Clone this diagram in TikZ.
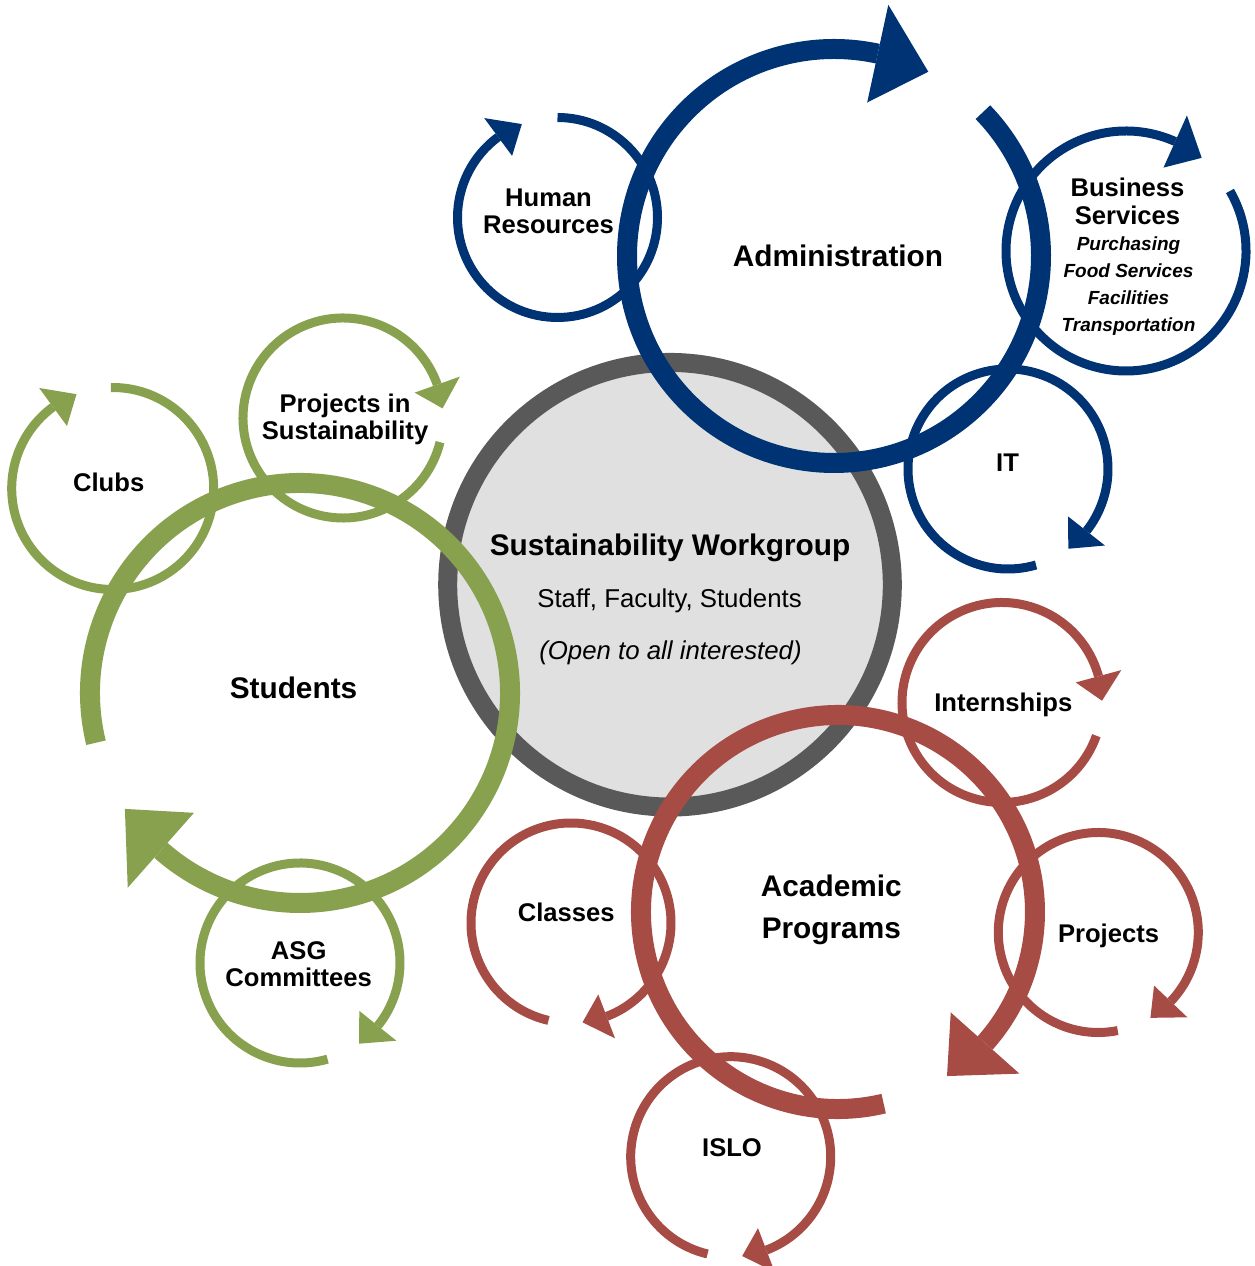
\documentclass[tikz,border=0pt]{standalone}
\usepackage{fontspec}
\setmainfont{Liberation Sans}
\definecolor{navy}{RGB}{0,51,115}
\definecolor{leaf}{RGB}{136,161,78}
\definecolor{brick}{RGB}{167,76,69}
\definecolor{ringgray}{RGB}{89,89,89}
\definecolor{discgray}{RGB}{224,224,224}
% #1 colour, #2 centre, #3 radius, #4 line width, #5 start angle, #6 end (arrow base) angle, #7 half width of head, #8 head angle
\newcommand{\cycarrow}[8]{%
  \draw[#1, line width=#4pt] (#2) ++(#5:#3) arc[start angle=#5, end angle=#6, radius=#3];
  \fill[#1] ([shift={(#6:{#3-#7})}]#2) -- ([shift={({#6-#8}:#3)}]#2) -- ([shift={(#6:{#3+#7})}]#2) -- cycle;
}
\begin{document}
\begin{tikzpicture}[x=1pt,y=1pt,
  lbl/.style={font=\fontsize{25.6}{27.3}\selectfont\bfseries, align=center, inner sep=0pt},
  big/.style={font=\fontsize{29.8}{41.5}\selectfont\bfseries, align=center, inner sep=0pt},
  sub/.style={font=\fontsize{25.8}{30}\selectfont, align=center, inner sep=0pt},
  subit/.style={font=\fontsize{25.8}{30}\selectfont\itshape, align=center, inner sep=0pt},
  listit/.style={font=\fontsize{19}{26.9}\selectfont\bfseries\itshape, align=center, inner sep=0pt}]
\useasboundingbox (0,0) rectangle (1254,1266);
\clip (0,0) rectangle (1254,1266);
% centres
\coordinate (wg) at (670,681.25);
\coordinate (adm) at (834,1010);
\coordinate (hr) at (557.5,1048.5);
\coordinate (bs) at (1126,1015);
\coordinate (it) at (1008,797);
\coordinate (stu) at (300,573);
\coordinate (clubs) at (112.7,777.5);
\coordinate (pis) at (343,848);
\coordinate (asg) at (300,303);
\coordinate (acad) at (838,354);
\coordinate (intern) at (1002,563.5);
\coordinate (classes) at (571,343);
\coordinate (islo) at (730.7,109.3);
\coordinate (proj) at (1098.3,333.5);
% central workgroup disc
\draw[ringgray, fill=discgray, line width=19pt] (wg) circle[radius=222.3];
% administration cycle
\cycarrow{navy}{adm}{207}{20}{44}{-282.2}{50}{14.9}
\cycarrow{navy}{hr}{100}{9}{90}{-233.6}{23.5}{15.5}
\cycarrow{navy}{bs}{120}{9}{30}{-294.2}{28.6}{14.9}
\cycarrow{navy}{it}{100}{9}{-73.7}{-398.3}{23.5}{14.6}
% students cycle
\cycarrow{leaf}{stu}{210}{20}{193.7}{-131.5}{50}{15}
\cycarrow{leaf}{clubs}{101}{9}{91}{-233.8}{23.6}{15.2}
\cycarrow{leaf}{pis}{100}{9}{-14}{-340.5}{24}{14}
\cycarrow{leaf}{asg}{100}{9}{-74}{-398.9}{23.8}{14.9}
% academic cycle
\cycarrow{brick}{acad}{197}{20}{-76.6}{-401.7}{46}{14.7}
\cycarrow{brick}{intern}{100}{9}{-19.4}{-344.8}{23.6}{14.2}
\cycarrow{brick}{classes}{100}{9}{-103}{-429.1}{23.5}{14.3}
\cycarrow{brick}{islo}{100}{9}{-103.4}{-429.1}{23.5}{14.3}
\cycarrow{brick}{proj}{100}{9}{-78.8}{-403.6}{23}{15}
% texts
\node[big] (admtxt) at (838,1010) {Administration};
\node[lbl] (hrtxt) at (548.5,1054.7) {Human\\Resources};
\node[lbl] (bstxt) at (1127.5,1064.5) {Business\\Services};
\node[listit] (bslist) at (1128.5,979.8) {Purchasing\\Food Services\\Facilities\\Transportation};
\node[lbl] (ittxt) at (1007.5,803.5) {IT};
\node[big] (wgtitle) at (670,718) {Sustainability Workgroup};
\node[sub] (wgsub) at (669.5,665.5) {Staff, Faculty, Students};
\node[subit] (wgopen) at (670.5,613) {(Open to all interested)};
\node[big] (stutxt) at (293.5,578) {Students};
\node[lbl] (clubstxt) at (108.7,784) {Clubs};
\node[lbl] (pistxt) at (345,846.6) {Projects in\\Sustainability};
\node[lbl] (asgtxt) at (298.7,301.5) {ASG\\Committees};
\node[big] (acadtxt) at (831.3,356) {Academic\\Programs};
\node[lbl] (interntxt) at (1003.3,560.8) {Internships};
\node[lbl] (classestxt) at (566.2,354) {Classes};
\node[lbl] (projtxt) at (1108.5,330) {Projects};
\node[lbl] (islotxt) at (732,118.5) {ISLO};
\end{tikzpicture}
\end{document}
